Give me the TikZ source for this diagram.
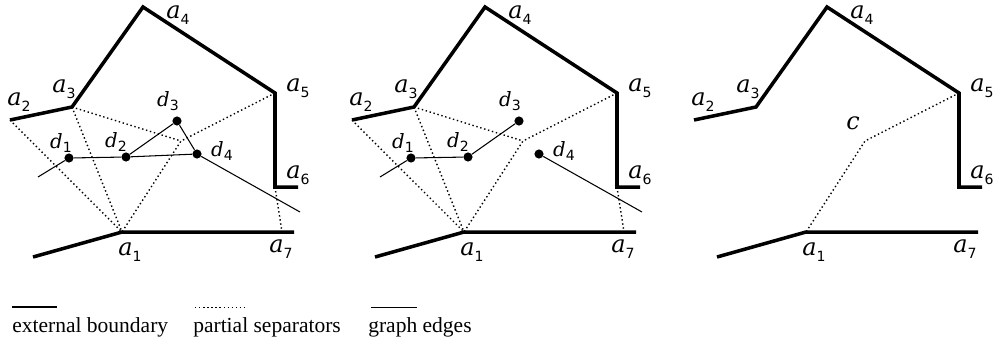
\documentclass[tikz,border=0pt]{standalone}
\usepackage{fontspec}
\setmainfont{Liberation Serif}
\newfontfamily\labfont{DejaVu Serif}
\newfontfamily\subfont{DejaVu Sans}
\usetikzlibrary{positioning, calc}

\newcommand{\lab}[2]{{\labfont\itshape #1}\raisebox{-0.5ex}{\subfont\fontsize{10}{12}\selectfont #2}}

% boundary of one panel, with its corner labels
\newcommand{\drawoutline}[1]{%
  \coordinate (#1a0) at (33,257);
  \coordinate (#1a1) at (122,232);
  \coordinate (#1a2) at (10,120);
  \coordinate (#1a3) at (72,107);
  \coordinate (#1a4) at (143,7);
  \coordinate (#1a5) at (275,93);
  \coordinate (#1a6) at (275,187);
  \coordinate (#1e6) at (298,187);
  \coordinate (#1a7) at (282,232);
  \coordinate (#1e7) at (294,232);
  \coordinate (#1c)  at (181,141);
  \draw[boundary] (#1a2) -- (#1a3) -- (#1a4) -- (#1a5) -- (#1a6) -- (#1e6);
  \draw[boundary] (#1a0) -- (#1a1) -- (#1e7);
  \node[albl] (#1la1) at (130,252) {\lab{a}{1}};
  \node[albl] (#1la2) at (19,102)  {\lab{a}{2}};
  \node[albl] (#1la3) at (64,89)   {\lab{a}{3}};
  \node[albl] (#1la4) at (178,15)  {\lab{a}{4}};
  \node[albl] (#1la5) at (298,88)  {\lab{a}{5}};
  \node[albl] (#1la6) at (298,175) {\lab{a}{6}};
  \node[albl] (#1la7) at (281,249) {\lab{a}{7}};
}

\begin{document}
\begin{tikzpicture}[
    x=0.025cm, y=-0.025cm,
    boundary/.style={line width=2.5pt},
    sep/.style={line width=1pt, dash pattern=on 1pt off 1.9pt},
    edge/.style={line width=0.75pt},
    vtx/.style={circle, fill, inner sep=0pt, minimum size=6.5pt},
    albl/.style={font=\fontsize{17}{19}\selectfont, inner sep=0pt},
    dlbl/.style={font=\fontsize{14}{16}\selectfont, inner sep=0pt},
    legtext/.style={font=\fontsize{15.3}{18}\selectfont, anchor=base west, inner sep=0pt}
]
\useasboundingbox (0,0) rectangle (996,345);

% ============================================================
% 1. FIRST PANEL: all separators, full graph
% ============================================================
\begin{scope}
  \drawoutline{p}
  \draw[sep] (pa2) -- (pa1);
  \draw[sep] (pa3) -- (pa1);
  \draw[sep] (pa3) -- (pc);
  \draw[sep] (pa5) -- (pc) -- (pa1);
  \draw[sep] (pa6) -- (pa7);

  \node[vtx] (pd1) at (69,158) {};
  \node[vtx] (pd2) at (126,157) {};
  \node[vtx] (pd3) at (177,121) {};
  \node[vtx] (pd4) at (197,154) {};
  \coordinate (pt1) at (38,177);
  \coordinate (pt4) at (300,212);
  \node[dlbl] (pld1) at (61,143)  {\lab{d}{1}};
  \node[dlbl] (pld2) at (116,142) {\lab{d}{2}};
  \node[dlbl] (pld3) at (168,101) {\lab{d}{3}};
  \node[dlbl] (pld4) at (222,151) {\lab{d}{4}};

  \draw[edge] (pt1) -- (pd1) -- (pd2) -- (pd3) -- (pd4) -- (pt4);
  \draw[edge] (pd2) -- (pd4);
\end{scope}

% ============================================================
% 2. SECOND PANEL: d4 cut off
% ============================================================
\begin{scope}[shift={(342,0)}]
  \drawoutline{q}
  \draw[sep] (qa2) -- (qa1);
  \draw[sep] (qa3) -- (qa1);
  \draw[sep] (qa3) -- (qc);
  \draw[sep] (qa5) -- (qc) -- (qa1);
  \draw[sep] (qa6) -- (qa7);

  \node[vtx] (qd1) at (69,158) {};
  \node[vtx] (qd2) at (126,157) {};
  \node[vtx] (qd3) at (177,121) {};
  \node[vtx] (qd4) at (197,154) {};
  \coordinate (qt1) at (38,177);
  \coordinate (qt4) at (300,212);
  \node[dlbl] (qld1) at (61,143)  {\lab{d}{1}};
  \node[dlbl] (qld2) at (116,142) {\lab{d}{2}};
  \node[dlbl] (qld3) at (168,101) {\lab{d}{3}};
  \node[dlbl] (qld4) at (222,151) {\lab{d}{4}};

  \draw[edge] (qt1) -- (qd1) -- (qd2) -- (qd3);
  \draw[edge] (qd4) -- (qt4);
\end{scope}

% ============================================================
% 3. THIRD PANEL: single separator through c
% ============================================================
\begin{scope}[shift={(684,0)}]
  \drawoutline{r}
  \draw[sep] (ra5) -- (rc) -- (ra1);
  \node[albl] (rlc) at (169,123) {\labfont\itshape c};
\end{scope}

% ============================================================
% LEGEND
% ============================================================
\coordinate (lb0) at (12,307);    \coordinate (lb1) at (57,307);
\coordinate (ls0) at (195,307);   \coordinate (ls1) at (245,307);
\coordinate (le0) at (371,307.5); \coordinate (le1) at (417,307.5);
\draw[line width=1.6pt] (lb0) -- (lb1);
\draw[sep, line width=0.7pt] (ls0) -- (ls1);
\draw[line width=0.5pt] (le0) -- (le1);
\node[legtext] (tb) at (12,332)  {external boundary};
\node[legtext] (ts) at (193,332) {partial separators};
\node[legtext] (te) at (368,332) {graph edges};

\end{tikzpicture}
\end{document}
